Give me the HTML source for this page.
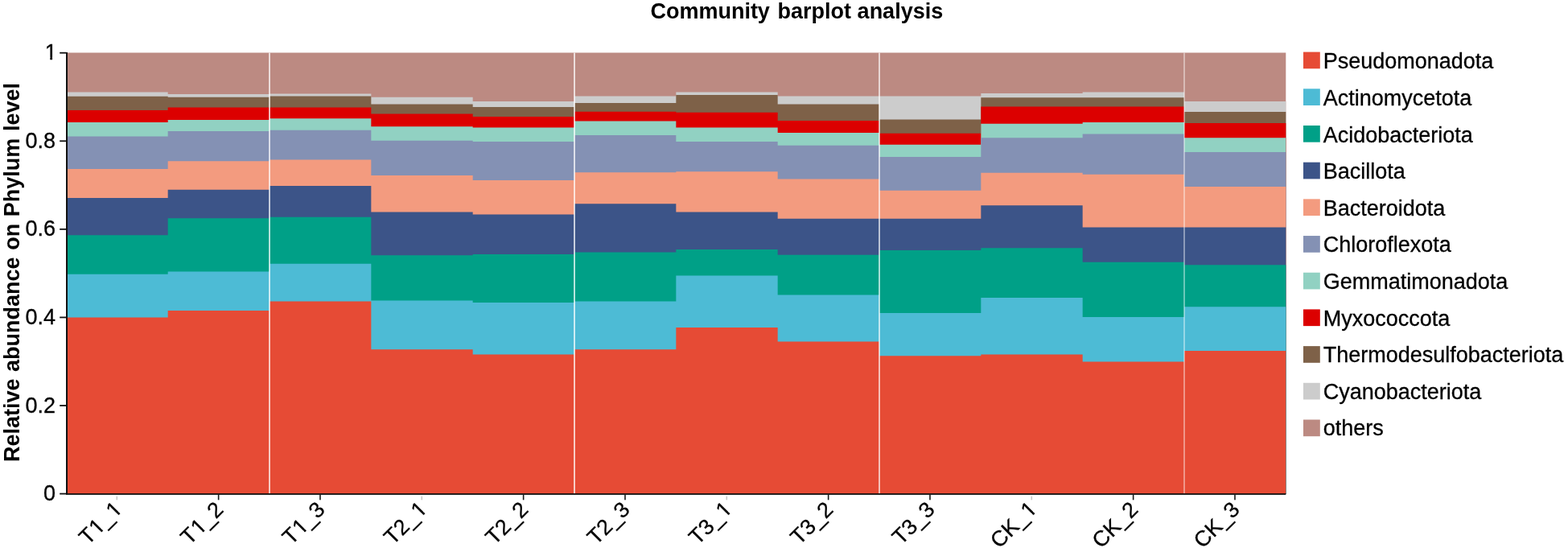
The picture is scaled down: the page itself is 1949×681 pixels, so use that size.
<!DOCTYPE html>
<html lang="en">
<head>
<meta charset="utf-8">
<title>Community barplot analysis</title>
<style>
html,body{margin:0;padding:0;background:#fff;}
body{width:1949px;height:681px;overflow:hidden;position:relative;}
svg{position:absolute;left:0;top:0;display:block;}
text{font-family:"Liberation Sans",Arial,Helvetica,sans-serif;font-size:27px;fill:#000;}
text{stroke:#000;stroke-width:0.3px;}
.b{font-weight:700;stroke:none;}
</style>
</head>
<body>
<svg width="1949" height="681" viewBox="0 0 1949 681">
<rect x="0" y="0" width="1949" height="681" fill="#fff"/>
<g>
<path d="M82.33,614L82.33,65.6L208.67,65.6L208.67,65.6L335,65.6L335,65.6L461.33,65.6L461.33,65.6L587.67,65.6L587.67,65.6L714,65.6L714,65.6L840.33,65.6L840.33,65.6L966.67,65.6L966.67,65.6L1093,65.6L1093,65.6L1219.33,65.6L1219.33,65.6L1345.67,65.6L1345.67,65.6L1472,65.6L1472,65.6L1598.3,65.6L1598.3,614Z" fill="#BC8A82"/>
<path d="M82.33,614L82.33,114.4L208.67,114.4L208.67,117.1L335,117.1L335,116.5L461.33,116.5L461.33,120.8L587.67,120.8L587.67,125.9L714,125.9L714,119.6L840.33,119.6L840.33,114.6L966.67,114.6L966.67,119.6L1093,119.6L1093,119.6L1219.33,119.6L1219.33,116.1L1345.67,116.1L1345.67,114.6L1472,114.6L1472,125.9L1598.3,125.9L1598.3,614Z" fill="#CCCCCC"/>
<path d="M82.33,614L82.33,119.8L208.67,119.8L208.67,120.8L335,120.8L335,119.6L461.33,119.6L461.33,129.4L587.67,129.4L587.67,132.9L714,132.9L714,128L840.33,128L840.33,118.1L966.67,118.1L966.67,129.4L1093,129.4L1093,148.6L1219.33,148.6L1219.33,121.2L1345.67,121.2L1345.67,121.2L1472,121.2L1472,139.1L1598.3,139.1L1598.3,614Z" fill="#7E6148"/>
<path d="M82.33,614L82.33,137L208.67,137L208.67,133.5L335,133.5L335,133.5L461.33,133.5L461.33,141.4L587.67,141.4L587.67,144.9L714,144.9L714,138.7L840.33,138.7L840.33,139.7L966.67,139.7L966.67,150L1093,150L1093,165.8L1219.33,165.8L1219.33,132.5L1345.67,132.5L1345.67,132.5L1472,132.5L1472,153.1L1598.3,153.1L1598.3,614Z" fill="#DC0000"/>
<path d="M82.33,614L82.33,152L208.67,152L208.67,149L335,149L335,147.3L461.33,147.3L461.33,157.2L587.67,157.2L587.67,158.6L714,158.6L714,150.6L840.33,150.6L840.33,158.6L966.67,158.6L966.67,165L1093,165L1093,179.8L1219.33,179.8L1219.33,153.7L1345.67,153.7L1345.67,152L1472,152L1472,171.2L1598.3,171.2L1598.3,614Z" fill="#91D1C2"/>
<path d="M82.33,614L82.33,169.5L208.67,169.5L208.67,162.9L335,162.9L335,161.7L461.33,161.7L461.33,174.7L587.67,174.7L587.67,176.1L714,176.1L714,168.1L840.33,168.1L840.33,176.1L966.67,176.1L966.67,180.8L1093,180.8L1093,195.1L1219.33,195.1L1219.33,171.2L1345.67,171.2L1345.67,166.4L1472,166.4L1472,189L1598.3,189L1598.3,614Z" fill="#8491B4"/>
<path d="M82.33,614L82.33,210.1L208.67,210.1L208.67,200.2L335,200.2L335,198.4L461.33,198.4L461.33,217.9L587.67,217.9L587.67,224.1L714,224.1L714,214.2L840.33,214.2L840.33,213.2L966.67,213.2L966.67,222.4L1093,222.4L1093,236.8L1219.33,236.8L1219.33,214.8L1345.67,214.8L1345.67,216.7L1472,216.7L1472,232.1L1598.3,232.1L1598.3,614Z" fill="#F39B7F"/>
<path d="M82.33,614L82.33,246.1L208.67,246.1L208.67,235.8L335,235.8L335,231.1L461.33,231.1L461.33,263.5L587.67,263.5L587.67,266.6L714,266.6L714,253.3L840.33,253.3L840.33,263.5L966.67,263.5L966.67,271.8L1093,271.8L1093,271.8L1219.33,271.8L1219.33,255.3L1345.67,255.3L1345.67,282.5L1472,282.5L1472,282.5L1598.3,282.5L1598.3,614Z" fill="#3C5488"/>
<path d="M82.33,614L82.33,292.3L208.67,292.3L208.67,271.2L335,271.2L335,269.7L461.33,269.7L461.33,317.3L587.67,317.3L587.67,316L714,316L714,313.5L840.33,313.5L840.33,310L966.67,310L966.67,316.8L1093,316.8L1093,311L1219.33,311L1219.33,308.2L1345.67,308.2L1345.67,325.7L1472,325.7L1472,329.2L1598.3,329.2L1598.3,614Z" fill="#00A087"/>
<path d="M82.33,614L82.33,340.7L208.67,340.7L208.67,337.4L335,337.4L335,327.8L461.33,327.8L461.33,373.4L587.67,373.4L587.67,376.1L714,376.1L714,374.6L840.33,374.6L840.33,342.6L966.67,342.6L966.67,366.4L1093,366.4L1093,389L1219.33,389L1219.33,369.9L1345.67,369.9L1345.67,394L1472,394L1472,381.2L1598.3,381.2L1598.3,614Z" fill="#4DBBD5"/>
<path d="M82.33,614L82.33,394.6L208.67,394.6L208.67,385.9L335,385.9L335,374.6L461.33,374.6L461.33,434.2L587.67,434.2L587.67,440.4L714,440.4L714,434.2L840.33,434.2L840.33,406.9L966.67,406.9L966.67,424.4L1093,424.4L1093,442.3L1219.33,442.3L1219.33,440.4L1345.67,440.4L1345.67,449.5L1472,449.5L1472,436.1L1598.3,436.1L1598.3,614Z" fill="#E64B35"/>
</g>
<rect x="334" y="65.6" width="2" height="547.9" fill="#fff" opacity="0.7"/>
<rect x="713" y="65.6" width="2" height="547.9" fill="#fff" opacity="0.72"/>
<rect x="1092" y="65.6" width="2" height="547.9" fill="#fff" opacity="0.65"/>
<rect x="1471" y="65.6" width="2" height="547.9" fill="#fff" opacity="0.42"/>
<rect x="0" y="60" width="82" height="560" fill="#fff"/>
<rect x="82" y="65" width="2" height="549.5" fill="#111"/>
<rect x="82" y="613.1" width="1516.3" height="1.8" fill="#111"/>
<rect x="74.2" y="612.7" width="8.2" height="1.8" fill="#111"/>
<g><text x="54.08" y="622.2">0</text></g>
<rect x="74.2" y="503.12" width="8.2" height="1.8" fill="#111"/>
<g><text x="31.57 46.58 54.08" y="512.62">0.2</text></g>
<rect x="74.2" y="393.54" width="8.2" height="1.8" fill="#111"/>
<g><text x="31.57 46.58 54.08" y="403.04">0.4</text></g>
<rect x="74.2" y="283.96" width="8.2" height="1.8" fill="#111"/>
<g><text x="31.57 46.58 54.08" y="293.46">0.6</text></g>
<rect x="74.2" y="174.38" width="8.2" height="1.8" fill="#111"/>
<g><text x="31.57 46.58 54.08" y="183.88">0.8</text></g>
<rect x="74.2" y="64.8" width="8.2" height="1.8" fill="#111"/>
<g><text x="55.68" y="74.3">1</text><rect x="56.54" y="70.88" width="5.73" height="4.82" fill="#fff"/><rect x="65.06" y="70.88" width="5.52" height="4.82" fill="#fff"/></g>
<rect x="144.5" y="616.7" width="1.6" height="4.6" fill="#c8c8c8"/>
<g transform="translate(152.8,634.8) rotate(-45)"><text x="-61.54 -44.15 -30.03 -14.12" y="0">T1_1</text><rect x="-43.29" y="-3.42" width="5.73" height="4.82" fill="#fff"/><rect x="-34.77" y="-3.42" width="5.52" height="4.82" fill="#fff"/><rect x="-13.26" y="-3.42" width="5.73" height="4.82" fill="#fff"/><rect x="-4.74" y="-3.42" width="5.52" height="4.82" fill="#fff"/></g>
<rect x="270.83" y="614.3" width="1.6" height="7" fill="#1a1a1a"/>
<g transform="translate(279.13,634.8) rotate(-45)"><text x="-61.54 -44.15 -30.03 -15.02" y="0">T1_2</text><rect x="-43.29" y="-3.42" width="5.73" height="4.82" fill="#fff"/><rect x="-34.77" y="-3.42" width="5.52" height="4.82" fill="#fff"/></g>
<rect x="397.17" y="614.3" width="1.6" height="7" fill="#1a1a1a"/>
<g transform="translate(405.47,634.8) rotate(-45)"><text x="-61.54 -44.15 -30.03 -15.02" y="0">T1_3</text><rect x="-43.29" y="-3.42" width="5.73" height="4.82" fill="#fff"/><rect x="-34.77" y="-3.42" width="5.52" height="4.82" fill="#fff"/></g>
<rect x="523.5" y="616.7" width="1.6" height="4.6" fill="#c8c8c8"/>
<g transform="translate(531.8,634.8) rotate(-45)"><text x="-61.54 -45.05 -30.03 -14.12" y="0">T2_1</text><rect x="-13.26" y="-3.42" width="5.73" height="4.82" fill="#fff"/><rect x="-4.74" y="-3.42" width="5.52" height="4.82" fill="#fff"/></g>
<rect x="649.83" y="614.3" width="1.6" height="7" fill="#1a1a1a"/>
<g transform="translate(658.13,634.8) rotate(-45)"><text x="-61.54 -45.05 -30.03 -15.02" y="0">T2_2</text></g>
<rect x="776.17" y="614.3" width="1.6" height="7" fill="#1a1a1a"/>
<g transform="translate(784.47,634.8) rotate(-45)"><text x="-61.54 -45.05 -30.03 -15.02" y="0">T2_3</text></g>
<rect x="902.5" y="616.7" width="1.6" height="4.6" fill="#c8c8c8"/>
<g transform="translate(910.8,634.8) rotate(-45)"><text x="-61.54 -45.05 -30.03 -14.12" y="0">T3_1</text><rect x="-13.26" y="-3.42" width="5.73" height="4.82" fill="#fff"/><rect x="-4.74" y="-3.42" width="5.52" height="4.82" fill="#fff"/></g>
<rect x="1028.83" y="614.3" width="1.6" height="7" fill="#1a1a1a"/>
<g transform="translate(1037.13,634.8) rotate(-45)"><text x="-61.54 -45.05 -30.03 -15.02" y="0">T3_2</text></g>
<rect x="1155.17" y="614.3" width="1.6" height="7" fill="#1a1a1a"/>
<g transform="translate(1163.47,634.8) rotate(-45)"><text x="-61.54 -45.05 -30.03 -15.02" y="0">T3_3</text></g>
<rect x="1281.5" y="616.7" width="1.6" height="4.6" fill="#c8c8c8"/>
<g transform="translate(1289.8,634.8) rotate(-45)"><text x="-67.54 -48.04 -30.03 -14.12" y="0">CK_1</text><rect x="-13.26" y="-3.42" width="5.73" height="4.82" fill="#fff"/><rect x="-4.74" y="-3.42" width="5.52" height="4.82" fill="#fff"/></g>
<rect x="1407.83" y="614.3" width="1.6" height="7" fill="#1a1a1a"/>
<g transform="translate(1416.13,634.8) rotate(-45)"><text x="-67.54 -48.04 -30.03 -15.02" y="0">CK_2</text></g>
<rect x="1534.17" y="614.3" width="1.6" height="7" fill="#1a1a1a"/>
<g transform="translate(1542.47,634.8) rotate(-45)"><text x="-67.54 -48.04 -30.03 -15.02" y="0">CK_3</text></g>
<g>
<text class="b" style="word-spacing:1.1px" x="990.3" y="22.7" text-anchor="middle">Community <tspan dx="1">barplot</tspan> <tspan dx="-1">analysis</tspan></text>
<text class="b" style="word-spacing:1.1px" transform="translate(24,338.6) rotate(-90)" text-anchor="middle">Relative abundance on Phylum level</text>
<rect x="1620" y="64.6" width="20.8" height="20.7" fill="#E64B35"/>
<text x="1644.7" y="85.4">Pseudomonadota</text>
<rect x="1620" y="110.29" width="20.8" height="20.7" fill="#4DBBD5"/>
<text x="1644.7" y="131">Actinomycetota</text>
<rect x="1620" y="155.98" width="20.8" height="20.7" fill="#00A087"/>
<text x="1644.7" y="176.6">Acidobacteriota</text>
<rect x="1620" y="201.67" width="20.8" height="20.7" fill="#3C5488"/>
<text x="1644.7" y="222.2">Bacillota</text>
<rect x="1620" y="247.36" width="20.8" height="20.7" fill="#F39B7F"/>
<text x="1644.7" y="267.8">Bacteroidota</text>
<rect x="1620" y="293.05" width="20.8" height="20.7" fill="#8491B4"/>
<text x="1644.7" y="313.4">Chloroflexota</text>
<rect x="1620" y="338.74" width="20.8" height="20.7" fill="#91D1C2"/>
<text x="1644.7" y="359">Gemmatimonadota</text>
<rect x="1620" y="384.43" width="20.8" height="20.7" fill="#DC0000"/>
<text x="1644.7" y="404.6">Myxococcota</text>
<rect x="1620" y="430.12" width="20.8" height="20.7" fill="#7E6148"/>
<text x="1644.7" y="450.2">Thermodesulfobacteriota</text>
<rect x="1620" y="475.81" width="20.8" height="20.7" fill="#CCCCCC"/>
<text x="1644.7" y="495.8">Cyanobacteriota</text>
<rect x="1620" y="521.5" width="20.8" height="20.7" fill="#BC8A82"/>
<text x="1644.7" y="541.4">others</text>
</g>
</svg>
</body>
</html>
